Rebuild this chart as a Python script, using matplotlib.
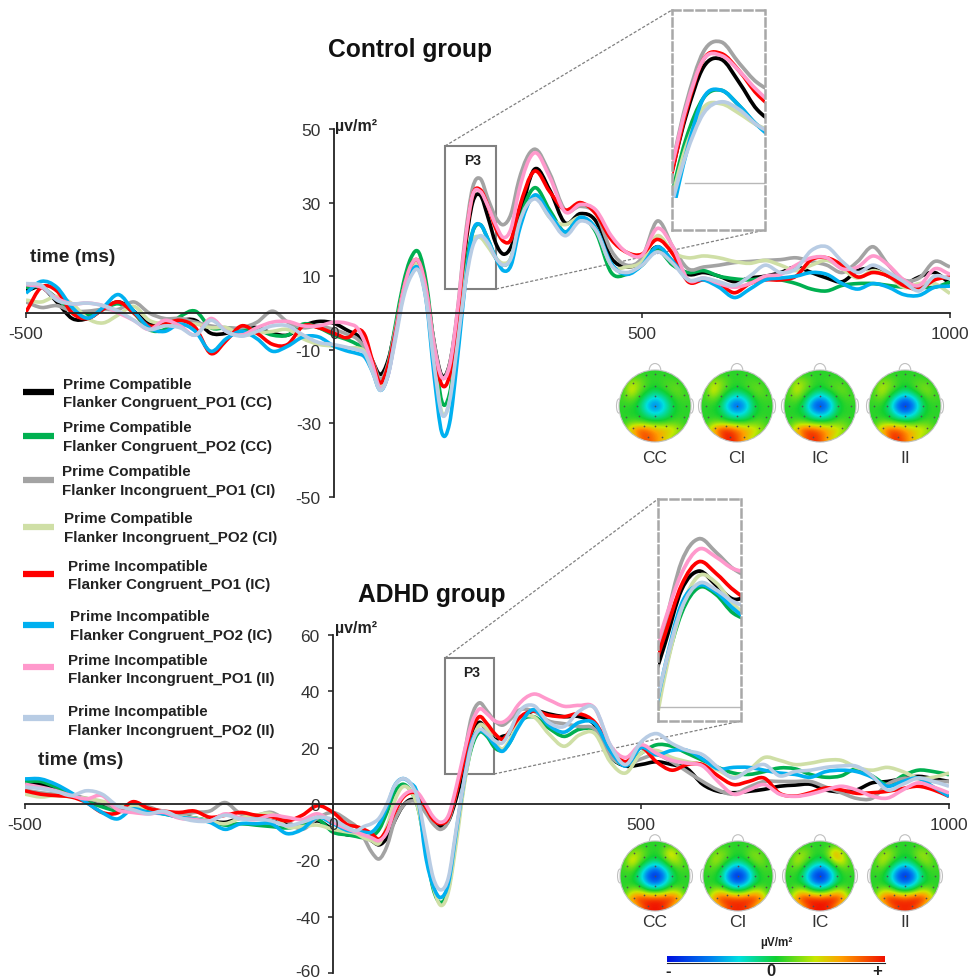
"""ERP waveforms at PO1/PO2 for control and ADHD groups, with P3 zooms and topographies."""
import numpy as np, matplotlib
matplotlib.use("Agg")
import matplotlib.pyplot as plt
from matplotlib.colors import LinearSegmentedColormap
from matplotlib.patches import Arc, Circle, PathPatch, Rectangle
from matplotlib.path import Path
from matplotlib.transforms import ScaledTranslation

plt.rcParams["font.family"] = ["Liberation Sans", "DejaVu Sans"]
plt.rcParams["axes.unicode_minus"] = False

W, H = 970, 979

# sample times: 25 ms steps, 12.5 ms across the fast deflections
t_ms = [-500, -475, -450, -425, -400, -375, -350, -325, -300, -275, -250, -225, -200, -175, -150, -125, -100, -75, -50, -25, 0, 25,
        37.5, 50, 62.5, 75, 87.5, 100, 112.5, 125, 137.5, 150, 162.5, 175, 187.5, 200, 212.5, 225, 237.5, 250, 262.5, 275, 287.5, 300,
        325, 350, 375, 400, 425, 450, 475, 500, 525, 550, 575, 600, 625, 650, 675, 700, 725, 750, 775, 800, 825, 850, 875, 900, 925, 950, 975, 1000]

# control group
ctl_cc_po1 = [6, 7, 3, -1.5, -1.5, 1, 3, 0.5, -3, -3, -2, -2, -5.5, -5.5, -4, -4, -5.5, -6, -3.5, -2.3, -2.8, -5,
              -6, -8.5, -13, -16.7, -13, -4, 5, 11.5, 13, 6, -8, -17, -14, -1, 17, 30, 32, 26, 19, 16, 18, 25,
              39, 33.5, 24.5, 27, 25, 15, 12.5, 14, 18, 14, 10.5, 11, 10, 8.5, 9.5, 10, 11, 12.5, 11, 9.5, 8.5, 11.5, 12, 10, 8, 9.8, 11, 8]
ctl_cc_po2 = [7, 7, 4, 0.5, -0.5, 1, 2.5, 0, -4.5, -4.5, -1, 0.5, -4, -4, -4.5, -4.5, -6, -6, -3, -4, -6, -7.5,
              -8.5, -10, -14, -19, -14, -3, 8, 15, 16.5, 8, -9, -24, -22, -7, 11, 22, 24, 20, 15, 13, 15, 24,
              34, 28, 22, 26, 22, 11, 10.5, 13, 17, 13, 11, 11.5, 10, 9.3, 9, 9.5, 9, 8, 6.5, 6, 7.5, 8, 8, 7.5, 7, 7, 7, 8.4]
ctl_ci_po1 = [3, 1.5, 2, 0.5, 0.5, 1, 1, 3, 0, -1.5, -1.5, -2.5, -3.5, -4, -4, -2.5, 0.5, -2.5, -4, -3.5, -4.5, -6,
              -7, -9.5, -13, -18, -14, -4, 6, 12, 13, 6, -8, -17.5, -14, 0, 20, 34, 36.5, 31, 26, 24, 27, 36,
              44.5, 38, 28, 29, 27, 17, 13, 15, 25, 18, 12, 12.5, 13, 13.7, 14, 14.3, 14.5, 15, 14, 13, 11, 14, 18, 13, 9, 9.5, 14, 12.5]
ctl_ci_po2 = [3.5, 3, 4.5, 2.5, -1.5, -2.7, -0.5, 1.8, -2, -3, -3.5, -3, -4, -4, -6, -5.5, -5, -4.5, -7, -8.5, -9, -9.5,
              -9.5, -10.5, -15, -20, -16, -5, 6, 12, 13, 4, -13, -27, -24, -8, 9, 19.5, 20.5, 18, 15, 13.5, 15, 23,
              31.5, 26, 24, 26, 23, 13, 12.5, 14, 21, 16.5, 15, 15.5, 15, 14, 13.5, 14.3, 13, 11.5, 13, 14.3, 12, 9.5, 11.5, 10, 7, 8, 8, 5.3]
ctl_ic_po1 = [0.3, 7, 6, 0, -1.5, 1, 3, 0, -3.5, -3, -2, -4, -11, -7.5, -3.5, -5.5, -8.5, -8.5, -3.5, -4, -5.5, -6.5,
              -4.5, -6, -13, -19, -14.5, -5, 6, 13, 14, 6, -10, -19.5, -17, -2, 18, 32, 33.5, 29, 23, 19.5, 20, 28,
              38.5, 33, 28, 30, 27, 20, 16.5, 16, 20, 16, 8.5, 9, 8, 5.5, 8, 9, 9, 10, 14.5, 15, 13, 9.8, 11, 10, 7.5, 6.5, 9, 9.8]
ctl_ic_po2 = [5.4, 8.6, 7, 1.5, -1.4, 1.5, 5, 0.5, -4, -5, -3, -5, -10.4, -7, -5, -7, -10.4, -9, -6.5, -6.5, -9, -10.5,
              -11, -12, -16, -21, -17, -6, 5, 11, 12, 3, -17, -32.5, -30, -13, 7, 22, 24, 20, 15, 11.5, 13, 22,
              32, 27, 22, 26, 23, 13.5, 10.5, 13, 18, 14, 9, 9, 7, 4.2, 6.5, 9, 9.5, 10, 11, 10.5, 8, 6.5, 8, 7, 5, 4.8, 7, 7.3]
ctl_ii_po1 = [7.7, 7, 4, 2.5, 2.7, 2, 0, -2, -4.5, -2, -3.5, -6, -1.5, -5, -6, -4, -2.5, -2.3, -3.5, -3.5, -2.5, -3,
              -4, -8, -14, -20.5, -17, -6, 6, 13, 14, 6, -9, -17.5, -14.5, 0, 19, 32, 33, 29, 24, 20.5, 23, 33,
              43.5, 37, 27.5, 29.5, 28, 21, 16.5, 15.7, 23, 18, 9, 9.5, 8, 7, 8, 10, 10.5, 13, 15, 15, 12, 12.5, 15.5, 13, 9, 7.5, 12, 10.5]
ctl_ii_po2 = [8, 7.5, 3.5, 2.5, 2.7, 2, 0.5, -2, -4.5, -3.5, -4, -6, -2, -5, -6.3, -5, -3.5, -3.5, -6, -8, -8.6, -9.5,
              -10, -11, -16, -21, -17, -7, 4, 10, 11.5, 3, -14, -27.5, -24, -9, 7, 18, 21, 19, 15, 13, 15, 24,
              31, 26, 21, 25, 22.5, 13, 11, 13, 16.6, 13.5, 9, 9.5, 8.5, 7.5, 10, 13, 11, 12, 17, 18, 14, 11, 13, 11, 8.5, 6, 10, 9.3]

# ADHD group
adhd_cc_po1 = [7, 7, 5, 3.5, 1.5, -0.5, -2, -0.5, -1.5, -3, -4, -5, -6, -6.5, -5, -5, -6, -7, -8, -6, -9, -11,
               -11, -11.5, -13, -14.5, -12, -6, -1, 1.5, 1, -2, -6, -8, -6, 2, 13, 25, 29, 26, 23, 24, 25, 29,
               33, 32, 31, 31, 28, 17, 13.5, 14, 15, 14, 12.5, 7, 4.5, 4, 4.5, 5.2, 6.3, 6.7, 7, 5, 4.3, 5, 7.5, 8, 9, 9.8, 9, 8]
adhd_cc_po2 = [8, 8, 6, 3.5, 1, -1, -2.5, -2.5, -2.5, -3.5, -4.5, -5, -6, -7.5, -7, -7.5, -8, -8.5, -7.5, -5.5, -10, -11,
               -11.5, -12, -11.5, -9, -3, 4, 7, 5, -1, -15, -30, -35, -30, -12, 7, 20, 25.5, 24, 20, 19, 22, 28,
               31, 27, 24, 26.5, 26, 17, 14, 18, 21, 20.5, 18, 15.5, 13, 11, 10.5, 11.5, 12.8, 12.5, 10.5, 9.5, 10, 12.5, 10, 7, 10, 12, 11.5, 10.4]
adhd_ci_po1 = [5, 4, 3.5, 3, 2, 0.5, -1.5, -0.5, -1, -3, -4, -3, -2.5, 0.5, -3.5, -4, -3, -6, -9, -5, -3, -6,
               -8, -12, -17, -19.5, -15, -6, -1, 1, 0.5, -3, -7, -9, -6, 4, 17, 31, 35.9, 33, 29.5, 28, 30, 33,
               33, 29.5, 28.5, 27.5, 26.5, 17, 14, 16, 17.5, 15, 11.5, 8, 5, 3.5, 6, 8, 8, 8, 8, 6, 4, 2, 2, 7, 9, 9, 8, 8]
adhd_ci_po2 = [3.5, 2.5, 3, 2.5, 2, 1, -0.5, -1, -1.5, -3, -4.5, -5, -6, -7, -5, -4, -3.5, -8, -8, -7.5, -9, -10,
               -10.5, -12, -13, -14, -8, 1, 6, 5, -1, -15, -29, -36, -31, -14, 6, 21, 28, 26.5, 22, 19.5, 23, 29,
               31, 25, 20.5, 24.5, 25, 15, 11, 18, 19, 16.5, 15, 14, 12, 9.5, 12, 16.5, 15.5, 14, 14.5, 15.5, 15.5, 13, 12, 13, 11.5, 9.2, 9.5, 11]
adhd_ic_po1 = [4.7, 3.5, 3, 2.5, 0.5, -3, -3.2, 0.8, -1.5, -2.5, -3, -2.5, -4.7, -4, -3, -4, -4.5, -6, -4, -0.6, -3, -7.5,
               -8, -9, -10.5, -12.5, -9, -3, 2, 4, 3.5, -1, -5.5, -7, -5, 4, 15, 26, 31, 28.5, 25, 23, 26, 30,
               33, 31.5, 31, 32, 29, 20, 15, 20, 15, 12, 14, 14, 10, 6.9, 8, 9.2, 3.8, 2.8, 4, 5.7, 5, 3.8, 4, 4.5, 5.5, 6.3, 5, 2.7]
adhd_ic_po2 = [8.9, 8.9, 7, 4, 0.5, -3, -5.3, -1.8, -3, -3.5, -4.7, -5.3, -6.5, -9, -7, -7, -7, -10.5, -9, -4.7, -7, -9.5,
               -9.8, -10, -10, -7, -1, 6.5, 9, 7.5, 3, -18, -29, -33.2, -28, -10, 8, 22, 26, 24.5, 21, 18.7, 22, 27,
               33.5, 28, 25.5, 29, 28.5, 19, 13.5, 20, 17.5, 19, 19, 16, 12.5, 13, 13, 12, 11, 10.5, 9.5, 11.5, 12, 11.5, 9.5, 6.3, 8, 9.2, 6, 2.7]
adhd_ii_po1 = [7, 6, 4.7, 3, 1.8, 3, -2, -3, -3.5, -3, -5, -5.5, -6, -3.5, -5, -5.5, -4, -4.7, -5.5, -3.5, -6.5, -9,
               -10, -11, -12, -13, -10, -2, 2.5, 4.5, 4, 0, -4.5, -6.5, -4, 6, 18, 28.5, 33.7, 32, 29.5, 29, 31, 35,
               39, 37, 34.7, 35, 34, 21, 16.5, 21, 18, 15.5, 14.5, 13.5, 8, 3.5, 5, 6.9, 3.5, 2.7, 3.5, 5, 6.3, 5, 2.8, 2.1, 5, 7.5, 6, 3.9]
adhd_ii_po2 = [6, 5.5, 4.5, 3, 4.7, 3.5, -0.6, -2, -3.5, -2.5, -4.7, -6, -6, -4, -5.3, -5.3, -6, -7.7, -6.5, -4.7, -5.5, -8.5,
               -9.5, -8, -7, -5, 0, 6.5, 9, 7.5, 2, -12, -26, -30.5, -26, -9, 8, 21, 26.4, 25, 22.5, 21.7, 26, 32,
               35, 29, 27.5, 33, 34, 21, 14, 22, 25, 21.5, 19, 17.5, 13, 9.2, 12, 14, 10, 11.5, 12, 13, 13.5, 13.4, 10, 5, 7, 9.2, 8, 6.3]

legend_lines = [("Prime Compatible", "Flanker Congruent_PO1 (CC)"),
                ("Prime Compatible", "Flanker Congruent_PO2 (CC)"),
                ("Prime Compatible", "Flanker Incongruent_PO1 (CI)"),
                ("Prime Compatible", "Flanker Incongruent_PO2 (CI)"),
                ("Prime Incompatible", "Flanker Congruent_PO1 (IC)"),
                ("Prime Incompatible", "Flanker Congruent_PO2 (IC)"),
                ("Prime Incompatible", "Flanker Incongruent_PO1 (II)"),
                ("Prime Incompatible", "Flanker Incongruent_PO2 (II)")]
colors = ["#000000", "#00b050", "#a3a3a3", "#cfdfa6", "#ff0000", "#00b0f0", "#ff99cc", "#b8cce4"]
control = [ctl_cc_po1, ctl_cc_po2, ctl_ci_po1, ctl_ci_po2, ctl_ic_po1, ctl_ic_po2, ctl_ii_po1, ctl_ii_po2]
adhd = [adhd_cc_po1, adhd_cc_po2, adhd_ci_po1, adhd_ci_po2, adhd_ic_po1, adhd_ic_po2, adhd_ii_po1, adhd_ii_po2]

top_yticks = [50, 30, 10, -10, -30, -50]
bottom_yticks = [60, 40, 20, 0, -20, -40, -60]
xticks = [-500, 0, 500, 1000]
topo_names = ["CC", "CI", "IC", "II"]

# coarse scalp maps, rows run front to back, -1 blue, 0 green, +1 red
topo_ctl_cc = [[0, 0, .05, .05, .05, .05, .05, 0, 0],
               [0, .3, .25, .1, .05, .1, .12, .1, 0],
               [.05, .5, .2, .05, -.05, .05, .15, .2, .05],
               [.1, .2, .05, -.2, -.4, -.25, 0, .1, .1],
               [.05, .05, -.05, -.45, -.7, -.45, -.1, .05, .05],
               [.05, .02, 0, -.2, -.35, -.25, -.05, .05, .05],
               [.05, .12, .1, .05, .03, .05, .1, .12, .05],
               [.1, .6, .85, .8, .6, .55, .5, .3, .1],
               [0, .15, .7, .85, .7, .5, .3, .1, 0]]
topo_ctl_ci = [[0, 0, .05, .05, .05, .05, .05, 0, 0],
               [0, .3, .25, .1, .05, .1, .12, .1, 0],
               [.05, .5, .2, .05, -.05, .05, .15, .2, .05],
               [.1, .2, .05, -.25, -.45, -.3, 0, .1, .1],
               [.05, .05, -.1, -.55, -.8, -.55, -.1, .05, .05],
               [.05, .02, -.02, -.25, -.4, -.3, -.05, .05, .05],
               [.05, .15, .12, .05, .03, .05, .12, .15, .05],
               [.1, .65, .95, .95, .75, .6, .5, .3, .1],
               [0, .15, .8, 1, .85, .55, .3, .1, 0]]
topo_ctl_ic = [[0, 0, .05, .05, .05, .05, .05, 0, 0],
               [0, .3, .25, .1, .05, .1, .12, .1, 0],
               [.05, .45, .2, .05, -.08, .05, .15, .2, .05],
               [.1, .2, .02, -.3, -.55, -.35, -.02, .1, .1],
               [.05, .05, -.12, -.65, -.92, -.65, -.15, .05, .05],
               [.05, .02, -.03, -.3, -.5, -.35, -.05, .05, .05],
               [.05, .15, .12, .05, .03, .05, .12, .15, .05],
               [.1, .6, .9, .9, .75, .6, .5, .3, .1],
               [0, .15, .75, .95, .85, .55, .3, .1, 0]]
topo_ctl_ii = [[0, 0, .05, .05, .05, .05, .05, 0, 0],
               [0, .25, .22, .1, .05, .1, .15, .1, 0],
               [.05, .4, .2, .05, -.1, .05, .2, .25, .05],
               [.1, .2, 0, -.35, -.6, -.4, -.05, .12, .1],
               [.05, .05, -.15, -.72, -1, -.72, -.18, .05, .05],
               [.05, .02, -.05, -.35, -.55, -.4, -.08, .05, .05],
               [.05, .15, .12, .05, .03, .05, .1, .12, .05],
               [.1, .6, .85, .85, .65, .5, .45, .3, .1],
               [0, .15, .8, .95, .75, .5, .3, .1, 0]]
topo_adhd_cc = [[0, 0, .05, .05, .05, .05, .05, 0, 0],
                [0, .25, .3, .1, .03, .15, .55, .2, 0],
                [.05, .55, .22, 0, -.1, 0, .3, .35, .05],
                [.1, .2, -.05, -.4, -.65, -.4, -.05, .12, .1],
                [.05, .05, -.2, -.75, -1, -.75, -.2, .05, .05],
                [.05, .03, -.08, -.45, -.65, -.45, -.08, .03, .05],
                [.05, .3, .35, .12, .05, .12, .35, .3, .05],
                [.15, .75, .95, .95, .95, .95, .95, .75, .15],
                [0, .15, .65, .95, 1, .95, .65, .15, 0]]
topo_adhd_ci = [[0, 0, .05, .05, .05, .05, .05, 0, 0],
                [0, .2, .25, .1, .03, .1, .25, .15, 0],
                [.05, .35, .18, 0, -.1, 0, .18, .25, .05],
                [.1, .15, -.05, -.4, -.65, -.4, -.05, .1, .1],
                [.05, .05, -.2, -.75, -1, -.75, -.2, .05, .05],
                [.05, .03, -.08, -.45, -.65, -.45, -.08, .03, .05],
                [.05, .35, .4, .15, .05, .15, .4, .35, .05],
                [.15, .75, .95, .95, .9, .95, .95, .75, .15],
                [0, .15, .65, .9, .95, .9, .65, .15, 0]]
topo_adhd_ic = [[0, 0, .05, .05, .05, .05, .05, 0, 0],
                [0, .2, .28, .1, .03, .2, .7, .25, 0],
                [.05, .4, .2, 0, -.1, 0, .45, .45, .05],
                [.1, .15, -.05, -.4, -.65, -.4, -.05, .15, .1],
                [.05, .05, -.2, -.75, -1, -.75, -.2, .05, .05],
                [.05, .03, -.08, -.45, -.65, -.45, -.08, .03, .05],
                [.05, .35, .4, .15, .05, .15, .4, .35, .05],
                [.15, .75, 1, 1, .95, 1, 1, .75, .15],
                [0, .15, .65, .95, 1, .95, .65, .15, 0]]
topo_adhd_ii = [[0, 0, .05, .05, .05, .05, .05, 0, 0],
                [0, .25, .3, .1, .03, .1, .3, .2, 0],
                [.05, .4, .2, 0, -.1, 0, .2, .3, .05],
                [.1, .15, -.05, -.4, -.65, -.4, -.05, .1, .1],
                [.05, .05, -.2, -.75, -1, -.75, -.2, .05, .05],
                [.05, .03, -.08, -.45, -.65, -.45, -.08, .03, .05],
                [.05, .35, .4, .15, .05, .15, .4, .35, .05],
                [.15, .75, 1, 1, .9, 1, 1, .75, .15],
                [0, .15, .65, .9, .95, .9, .65, .15, 0]]
electrodes_x = [-.25, 0, .25, -.6, -.3, 0, .3, .6, -.8, -.45, 0, .45, .8, -.85, -.5, 0, .5, .85, -.8, -.45, 0, .45, .8, -.6, -.3, 0, .3, .6, -.2, .2]
electrodes_y = [.85, .9, .85, .65, .55, .55, .55, .65, .3, .28, .28, .28, .3, 0, 0, 0, 0, 0, -.3, -.28, -.28, -.28, -.3, -.62, -.55, -.55, -.55, -.62, -.85, -.85]

topo_cmap = LinearSegmentedColormap.from_list("topo", [(0, "#0010e0"), (.2, "#0080f0"), (.33, "#00e0e0"), (.5, "#10d030"),
                                                       (.68, "#c8e800"), (.8, "#ffa000"), (1, "#f01000")])


def smooth_path(t, v):
    # cubic segments through the read values, so the trace is not drawn as a polygon
    t, v = np.array(t, dtype=float), np.array(v, dtype=float)
    m = np.gradient(v, t)
    verts, codes = [(t[0], v[0])], [Path.MOVETO]
    for i in range(len(t) - 1):
        d = (t[i + 1] - t[i]) / 3
        verts += [(t[i] + d, v[i] + m[i] * d), (t[i + 1] - d, v[i + 1] - m[i + 1] * d), (t[i + 1], v[i + 1])]
        codes += [Path.CURVE4] * 3
    return Path(verts, codes)


def px_axes(fig, x0, x1, y_top, y_bot, **kw):
    return fig.add_axes([x0 / W, 1 - y_bot / H, (x1 - x0) / W, (y_bot - y_top) / H], **kw)


def erp_panel(fig, series, x0, x1, y_top, y_bot, ylim, yticks):
    ax = px_axes(fig, x0, x1, y_top, y_bot, zorder=3)
    ax.patch.set_alpha(0)
    for vals, c in zip(series, colors):
        ax.add_patch(PathPatch(smooth_path(t_ms, vals), fc="none", ec=c, lw=2.6, joinstyle="round", capstyle="butt"))
    ax.set_xlim(-500, 1000); ax.set_ylim(*ylim)
    for s in ("top", "right"):
        ax.spines[s].set_visible(False)
    ax.spines["left"].set_position(("data", 0))
    ax.spines["bottom"].set_position(("data", 0))
    ax.spines["left"].set_color("#222222"); ax.spines["bottom"].set_color("#222222")
    ax.spines["left"].set_linewidth(1.3); ax.spines["bottom"].set_linewidth(1.3)
    ax.set_xticks(xticks); ax.set_yticks(yticks)
    ax.tick_params(axis="both", length=3.5, width=1.1, color="#222222", labelcolor="#333333", labelsize=12.5)
    ax.tick_params(axis="x", pad=6)
    ax.tick_params(axis="y", pad=6)
    return ax


def zoom_panel(fig, series, x0, x1, y_top, y_bot, xlim, ylim, zero_from, floor):
    ax = px_axes(fig, x0, x1, y_top, y_bot, zorder=4)
    ax.patch.set_alpha(0)
    ax.axhline(0, xmin=zero_from, color="#b8b8b8", lw=1)
    ax.set_xlim(*xlim); ax.set_ylim(*ylim)
    for vals, c in zip(series, colors):
        line = PathPatch(smooth_path(t_ms, vals), fc="none", ec=c, lw=2.7, joinstyle="round")
        ax.add_patch(line)
        line.set_clip_path(Rectangle((0, floor), 1, 1 - floor, transform=ax.transAxes))
    ax.set_xticks([]); ax.set_yticks([])
    for s in ax.spines.values():
        s.set_color("#a8a8a8"); s.set_linewidth(1.8); s.set_linestyle((0, (3.2, 1.6)))
    return ax


def topo(bg, grid, cx, cy, r):
    head = Circle((cx, cy), r, transform=bg.transData)
    im = bg.imshow(grid, extent=(cx - r, cx + r, cy + r, cy - r), cmap=topo_cmap, vmin=-1, vmax=1,
                   interpolation="bicubic", aspect="auto", zorder=2)
    im.set_clip_path(head)
    bg.add_patch(Circle((cx, cy), r, fc="none", ec="#c0c0c0", lw=0.8, zorder=3))
    bg.add_patch(Arc((cx, cy - r), r * .32, r * .36, theta1=180, theta2=360, ec="#c0c0c0", lw=0.8, zorder=3))
    bg.add_patch(Arc((cx - r, cy), r * .14, r * .4, theta1=90, theta2=270, ec="#c0c0c0", lw=0.8, zorder=3))
    bg.add_patch(Arc((cx + r, cy), r * .14, r * .4, theta1=-90, theta2=90, ec="#c0c0c0", lw=0.8, zorder=3))
    bg.scatter(cx + np.array(electrodes_x) * r, cy - np.array(electrodes_y) * r, s=1.5, color="#505050", lw=0, zorder=4)


fig = plt.figure(figsize=(W / 100, H / 100), dpi=100)

# page layer in pixel coordinates for labels, legend, boxes and maps
bg = fig.add_axes([0, 0, 1, 1], zorder=1)
bg.axis("off")

erp_panel(fig, control, 26, 950, 130, 498, (-50, 50), top_yticks)
ax_b = erp_panel(fig, adhd, 25, 949, 636, 974, (-60, 60), bottom_yticks)
# the lowest label sits slightly above its tick so it stays on the page
last = ax_b.get_yticklabels()[-1]
last.set_transform(last.get_transform() + ScaledTranslation(0, 2.5 / 100, fig.dpi_scale_trans))

zoom_panel(fig, control, 672, 765, 11, 231, (203, 268), (-12.2, 44.8), 0.14, 0.145)
zoom_panel(fig, adhd, 658, 741, 500, 722, (208, 268), (-3, 44.4), 0, 0.045)

for x0, x1, y0, y1 in [(445, 496, 147, 290), (445, 494, 659, 775)]:
    bg.add_patch(Rectangle((x0, y0), x1 - x0, y1 - y0, fc="none", ec="#808080", lw=1.5, zorder=5))
    bg.text((x0 + x1) / 2 + 2, y0 + 14, "P3", fontsize=10, fontweight="bold", color="#222222", ha="center", va="center")

for xs, ys in [((445, 672), (147, 11)), ((496, 765), (290, 231)), ((445, 658), (659, 500)), ((494, 741), (775, 722))]:
    bg.plot(xs, ys, color="#808080", lw=0.9, ls=(0, (2.5, 1.5)))

bg.text(410, 50, "Control group", fontsize=17.7, fontweight="bold", color="#111111", ha="center", va="center")
bg.text(432, 595, "ADHD group", fontsize=17.7, fontweight="bold", color="#111111", ha="center", va="center")
bg.text(30, 258, "time (ms)", fontsize=13.8, fontweight="bold", color="#222222", va="center")
bg.text(38, 761, "time (ms)", fontsize=13.8, fontweight="bold", color="#222222", va="center")
bg.text(335, 127, "µv/m²", fontsize=11.5, fontweight="bold", color="#222222", va="center")
bg.text(335, 629, "µv/m²", fontsize=11.5, fontweight="bold", color="#222222", va="center")

handle_y = [393, 437, 481, 528, 575, 626, 668, 719]
text_x = [63, 63, 62, 64, 68, 70, 68, 68]
text_y = [385, 428, 472, 519, 567, 617, 661, 712]
text_gap = [18, 19, 19, 19, 18, 19, 18, 19]
for i, (l1, l2) in enumerate(legend_lines):
    bg.plot([23, 54], [handle_y[i], handle_y[i]], color=colors[i], lw=4.5, solid_capstyle="butt")
    bg.text(text_x[i], text_y[i], l1, fontsize=10.9, fontweight="bold", color="#222222", va="center")
    bg.text(text_x[i], text_y[i] + text_gap[i], l2, fontsize=10.9, fontweight="bold", color="#222222", va="center")

control_maps = [topo_ctl_cc, topo_ctl_ci, topo_ctl_ic, topo_ctl_ii]
for cx, grid, name in zip([655, 737, 820, 905], control_maps, topo_names):
    topo(bg, grid, cx, 407, 36)
    bg.text(cx, 459, name, fontsize=12.5, color="#333333", ha="center", va="center")
adhd_maps = [topo_adhd_cc, topo_adhd_ci, topo_adhd_ic, topo_adhd_ii]
for cx, grid, name in zip([655, 738, 820, 905], adhd_maps, topo_names):
    topo(bg, grid, cx, 877, 35)
    bg.text(cx, 923, name, fontsize=12.5, color="#333333", ha="center", va="center")

bg.text(776, 943, "µV/m²", fontsize=8.5, fontweight="bold", color="#222222", ha="center", va="center")
bg.imshow([np.linspace(0, 1, 256)], extent=(667, 885, 963, 957), cmap=topo_cmap, aspect="auto", zorder=2)
bg.plot([667, 885], [963.5, 963.5], color="#222222", lw=0.8)
for x, s in [(668, "-"), (771, "0"), (877, "+")]:
    bg.text(x, 972, s, fontsize=12, fontweight="bold", color="#222222", ha="center", va="center")

bg.set_xlim(0, W); bg.set_ylim(H, 0)

fig.savefig("out.png", dpi=100)
